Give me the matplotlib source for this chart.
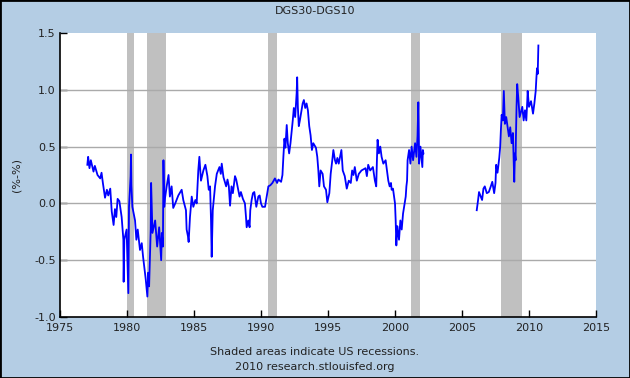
import matplotlib
matplotlib.use("Agg")
import matplotlib.pyplot as plt
from matplotlib.patches import Rectangle
import numpy as np

# ---- data ----
years_a = [1977.04, 1977.1, 1977.2, 1977.3, 1977.5, 1977.6, 1977.8, 1978.0, 1978.1, 1978.2,
           1978.36, 1978.5, 1978.6, 1978.75, 1978.86, 1979.0, 1979.1, 1979.2, 1979.3, 1979.43,
           1979.6, 1979.73, 1979.75, 1979.8, 1979.97, 1980.1, 1980.15, 1980.27, 1980.3, 1980.33,
           1980.4, 1980.6, 1980.7, 1980.8, 1980.97, 1981.1, 1981.2, 1981.3, 1981.4, 1981.52,
           1981.58, 1981.65, 1981.77, 1981.8, 1981.9, 1982.1, 1982.25, 1982.4, 1982.55, 1982.6,
           1982.68, 1982.72, 1982.78, 1982.84, 1982.96, 1983.1, 1983.2, 1983.33, 1983.45, 1983.6,
           1983.83, 1984.08, 1984.2, 1984.4, 1984.45, 1984.55, 1984.6, 1984.7, 1984.83, 1984.95,
           1985.1, 1985.2, 1985.32, 1985.4, 1985.52, 1985.7, 1985.85, 1986.0, 1986.1, 1986.2,
           1986.27, 1986.32, 1986.4, 1986.57, 1986.7, 1986.9, 1987.0, 1987.07, 1987.2, 1987.4,
           1987.5, 1987.6, 1987.69, 1987.8, 1987.9, 1988.06, 1988.15, 1988.3, 1988.4, 1988.5,
           1988.65, 1988.8, 1988.88, 1988.93, 1989.05, 1989.15, 1989.2, 1989.3, 1989.4, 1989.5,
           1989.65, 1989.8, 1989.9, 1990.0, 1990.1, 1990.3, 1990.47, 1990.55, 1990.7, 1990.85,
           1991.04, 1991.2, 1991.3, 1991.5, 1991.6, 1991.67, 1991.75, 1991.82, 1991.92, 1992.0,
           1992.1, 1992.2, 1992.37, 1992.45, 1992.55, 1992.66, 1992.7, 1992.75, 1992.82, 1992.9,
           1993.11, 1993.2, 1993.3, 1993.4, 1993.5, 1993.6, 1993.7, 1993.8, 1993.9, 1994.1,
           1994.2, 1994.28, 1994.35, 1994.45, 1994.6, 1994.7, 1994.85, 1994.95, 1995.1, 1995.2,
           1995.32, 1995.4, 1995.52, 1995.6, 1995.7, 1995.8, 1996.0, 1996.1, 1996.25, 1996.4,
           1996.55, 1996.7, 1996.8, 1996.9, 1997.0, 1997.15, 1997.3, 1997.5, 1997.8, 1997.9,
           1998.0, 1998.15, 1998.35, 1998.5, 1998.6, 1998.65, 1998.7, 1998.8, 1998.9, 1999.0,
           1999.13, 1999.3, 1999.5, 1999.6, 1999.7, 1999.75, 1999.85, 2000.0, 2000.05, 2000.1,
           2000.17, 2000.2, 2000.3, 2000.4, 2000.5, 2000.6, 2000.8, 2000.85, 2000.9, 2000.94,
           2001.05, 2001.15, 2001.24, 2001.35, 2001.5, 2001.6, 2001.68, 2001.74, 2001.8, 2001.9,
           2002.04, 2002.08, 2002.12]
spread_a = [0.34, 0.41, 0.31, 0.38, 0.28, 0.33, 0.25, 0.22, 0.27, 0.18,
            0.05, 0.12, 0.07, 0.13, -0.07, -0.19, -0.05, -0.12, 0.04, 0.02,
            -0.12, -0.32, -0.69, -0.32, -0.23, -0.79, -0.03, 0.24, 0.43, 0.16,
            -0.03, -0.15, -0.32, -0.23, -0.41, -0.35, -0.47, -0.57, -0.67, -0.82,
            -0.61, -0.73, -0.23, 0.18, -0.26, -0.15, -0.38, -0.21, -0.50, -0.26,
            -0.38, 0.38, -0.03, 0.05, 0.15, 0.25, 0.06, 0.15, -0.04, 0.00,
            0.07, 0.12, 0.03, -0.06, -0.23, -0.29, -0.34, -0.12, 0.06, -0.03,
            0.03, 0.00, 0.29, 0.41, 0.20, 0.29, 0.34, 0.24, 0.12, 0.15,
            -0.15, -0.47, -0.06, 0.15, 0.26, 0.32, 0.26, 0.35, 0.23, 0.15,
            0.21, 0.15, -0.02, 0.15, 0.09, 0.24, 0.21, 0.12, 0.06, 0.10,
            0.04, 0.00, -0.12, -0.21, -0.15, -0.21, -0.06, 0.03, 0.09, 0.10,
            -0.03, 0.06, 0.07, 0.00, -0.03, -0.03, 0.09, 0.15, 0.16, 0.18,
            0.22, 0.18, 0.21, 0.19, 0.25, 0.41, 0.57, 0.49, 0.69, 0.53,
            0.44, 0.53, 0.73, 0.84, 0.76, 0.97, 1.11, 0.85, 0.68, 0.73,
            0.88, 0.91, 0.84, 0.88, 0.82, 0.68, 0.60, 0.47, 0.53, 0.49,
            0.41, 0.29, 0.15, 0.29, 0.26, 0.15, 0.12, 0.01, 0.09, 0.26,
            0.38, 0.47, 0.38, 0.35, 0.40, 0.35, 0.47, 0.29, 0.24, 0.13,
            0.20, 0.18, 0.29, 0.25, 0.32, 0.20, 0.26, 0.29, 0.31, 0.24,
            0.34, 0.29, 0.32, 0.20, 0.15, 0.38, 0.56, 0.44, 0.50, 0.41,
            0.35, 0.38, 0.20, 0.15, 0.18, 0.12, 0.13, 0.00, -0.15, -0.37,
            -0.20, -0.23, -0.32, -0.15, -0.23, -0.09, 0.06, 0.15, 0.20, 0.38,
            0.47, 0.35, 0.50, 0.38, 0.53, 0.41, 0.59, 0.89, 0.35, 0.50,
            0.32, 0.47, 0.44]

years_b = [2006.1, 2006.2, 2006.27, 2006.4, 2006.5, 2006.6, 2006.7, 2006.85, 2007.0, 2007.15,
           2007.26, 2007.4, 2007.5, 2007.55, 2007.65, 2007.78, 2007.85, 2007.9, 2007.96, 2008.05,
           2008.12, 2008.2, 2008.3, 2008.5, 2008.6, 2008.7, 2008.8, 2008.9, 2008.95, 2009.0,
           2009.02, 2009.05, 2009.07, 2009.12, 2009.2, 2009.3, 2009.5, 2009.6, 2009.7, 2009.8,
           2009.87, 2009.9, 2010.0, 2010.15, 2010.3, 2010.4, 2010.5, 2010.55, 2010.6, 2010.65,
           2010.7]
spread_b = [-0.06, 0.03, 0.10, 0.06, 0.03, 0.13, 0.15, 0.09, 0.10, 0.15,
            0.19, 0.09, 0.18, 0.34, 0.27, 0.40, 0.50, 0.64, 0.78, 0.73,
            0.99, 0.70, 0.76, 0.59, 0.67, 0.53, 0.62, 0.19, 0.44, 0.38,
            0.56, 0.73, 0.85, 1.05, 0.93, 0.76, 0.85, 0.73, 0.82, 0.73,
            0.90, 0.99, 0.85, 0.90, 0.79, 0.88, 0.99, 1.10, 1.19, 1.14,
            1.39]

recession_start = [1980.0, 1981.5, 1990.55, 2001.2, 2007.92]
recession_end = [1980.5, 1982.88, 1991.2, 2001.88, 2009.5]

x_ticks = [1975, 1980, 1985, 1990, 1995, 2000, 2005, 2010, 2015]
y_ticks = [-1.0, -0.5, 0.0, 0.5, 1.0, 1.5]

# ---- figure ----
bg = '#b4cde4'
fig = plt.figure(figsize=(6.3, 3.78), dpi=100, facecolor=bg)
ax = fig.add_axes([60 / 630, 1 - 317 / 378, 536 / 630, 284 / 378])
ax.set_facecolor('white')

for s, e in zip(recession_start, recession_end):
    ax.axvspan(s, e, color='#c0c0c0', lw=0, zorder=1)

for yv in y_ticks[1:-1]:
    ax.axhline(yv, color='#aaaaaa', lw=1.0, zorder=2)

ax.plot(years_a, spread_a, color='#0000ff', lw=1.3, zorder=3)
ax.plot(years_b, spread_b, color='#0000ff', lw=1.3, zorder=3)

ax.set_xlim(1975, 2015)
ax.set_ylim(-1.0, 1.5)
ax.set_xticks(x_ticks)
ax.set_xticklabels([str(t) for t in x_ticks])
ax.set_yticks(y_ticks)
ax.set_yticklabels(['%.1f' % t for t in y_ticks])
ax.tick_params(direction='in', length=5, width=1, color='black', labelsize=8, labelcolor='#222222')
ax.tick_params(axis='x', pad=4)
ax.tick_params(axis='y', pad=3)

for side in ['top', 'right']:
    ax.spines[side].set_visible(False)
for side in ['left', 'bottom']:
    ax.spines[side].set_color('black')
    ax.spines[side].set_linewidth(1.2)

ax.set_ylabel('(%-%)', fontsize=8, color='#222222', labelpad=9)

fig.text(0.5, 1 - 11 / 378, 'DGS30-DGS10', ha='center', va='center', fontsize=8, color='#222222')
fig.text(0.5, 1 - 352 / 378, 'Shaded areas indicate US recessions.', ha='center', va='center',
         fontsize=8, color='#222222')
fig.text(0.5, 1 - 367 / 378, '2010 research.stlouisfed.org', ha='center', va='center',
         fontsize=8, color='#222222')

fig.patches.append(Rectangle((0, 0), 1, 1, transform=fig.transFigure, fill=False,
                             edgecolor='black', lw=2, zorder=10))

fig.savefig('out.png', dpi=100, facecolor=bg)
